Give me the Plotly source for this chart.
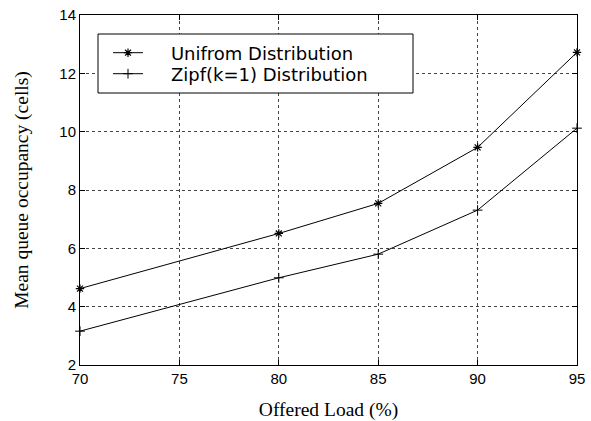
import plotly.graph_objects as go

load = [70, 80, 85, 90, 95]
uniform = [4.62, 6.51, 7.54, 9.46, 12.72]
zipf = [3.16, 4.99, 5.80, 7.31, 10.12]
x_ticks = [70, 75, 80, 85, 90, 95]
y_ticks = [2, 4, 6, 8, 10, 12, 14]
names = ["Unifrom Distribution", "Zipf(k=1) Distribution"]

W, H = 591, 421
L, R, T, B = 80, 14, 15, 56
pw, ph = W - L - R, H - T - B

PAD = "\u00a0" * 4

fig = go.Figure()
fig.add_trace(go.Scatter(x=load, y=uniform, mode="lines+markers", name=PAD + names[0],
                         legend="legend", cliponaxis=False,
                         line=dict(color="black", width=1),
                         marker=dict(symbol="asterisk-open", size=7, color="black", line=dict(width=1.2, color="black"))))
fig.add_trace(go.Scatter(x=load, y=zipf, mode="lines+markers", name=PAD + names[1],
                         legend="legend2", cliponaxis=False,
                         line=dict(color="black", width=1),
                         marker=dict(symbol="cross-thin-open", size=7, color="black", line=dict(width=1, color="black"))))

def px2paper(x, y):
    return (x - L) / pw, (H - B - y) / ph

x0, y0 = px2paper(98, 34)
x1, y1 = px2paper(413, 93)
fig.add_shape(type="rect", xref="paper", yref="paper", x0=x0, y0=y1, x1=x1, y1=y0,
              line=dict(color="black", width=1), fillcolor="white", layer="above")

lx, ly1 = px2paper(108, 53)
_, ly2 = px2paper(108, 74)

axis_common = dict(showline=True, linecolor="black", linewidth=1, mirror="ticks",
                   ticks="inside", ticklen=5, tickcolor="black",
                   showgrid=True, gridcolor="#444444", griddash="dot", gridwidth=1,
                   zeroline=False, automargin=False,
                   tickfont=dict(family="Liberation Sans, Arial", size=15, color="black"))

legend_common = dict(xanchor="left", yanchor="middle", bgcolor="rgba(0,0,0,0)", borderwidth=0,
                     font=dict(family="DejaVu Sans", size=18, color="black"))

title_font = dict(family="Liberation Serif, Times New Roman", size=19.5, color="black")

fig.update_layout(
    width=W, height=H,
    margin=dict(l=L, r=R, t=T, b=B),
    paper_bgcolor="white", plot_bgcolor="white",
    xaxis=dict(range=[70, 95], tickvals=x_ticks, ticktext=[str(v) for v in x_ticks],
               title=dict(text="Offered Load (%)", font=title_font, standoff=21),
               **axis_common),
    yaxis=dict(range=[2, 14], tickvals=y_ticks, ticktext=[str(v) for v in y_ticks],
               title=dict(text="Mean queue occupancy (cells)", font=title_font, standoff=25),
               **axis_common),
    legend=dict(x=lx, y=ly1, **legend_common),
    legend2=dict(x=lx, y=ly2, **legend_common),
    showlegend=True,
)

fig.write_html("out.html")
